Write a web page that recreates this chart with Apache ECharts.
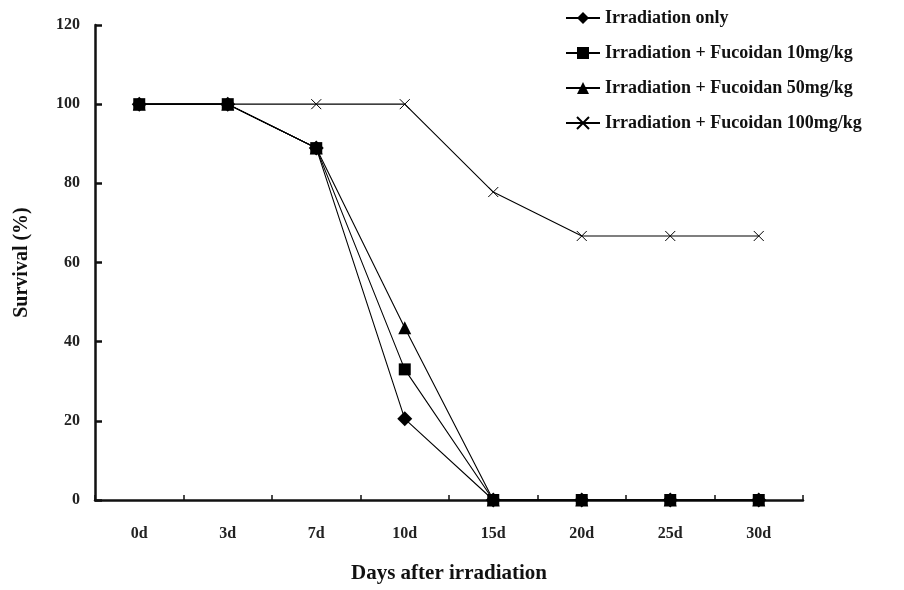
<!DOCTYPE html>
<html>
<head>
<meta charset="utf-8">
<script src="https://cdn.jsdelivr.net/npm/echarts@6/dist/echarts.min.js"></script>
<style>
  html, body { margin: 0; padding: 0; background: #fff; }
  #chart { width: 904px; height: 590px; }
</style>
</head>
<body>
<div id="chart"></div>
<script>
const days = ['0d', '3d', '7d', '10d', '15d', '20d', '25d', '30d'];
const irradiationOnly = [100, 100, 88.9, 20.5, 0, 0, 0, 0];
const fucoidan10 = [100, 100, 88.9, 33, 0, 0, 0, 0];
const fucoidan50 = [100, 100, 88.9, 43.5, 0, 0, 0, 0];
const fucoidan100 = [100, 100, 100, 100, 77.8, 66.7, 66.7, 66.7];
const yTicks = [0, 20, 40, 60, 80, 100, 120];

const font = 'Liberation Serif';
const crossPath = 'path://M0,0L10,10M10,0L0,10';

const myChart = echarts.init(document.getElementById('chart'));

const mkSeries = (name, data, symbol, size, extra) => Object.assign({
  name: name,
  type: 'line',
  data: data,
  symbol: symbol,
  symbolSize: size,
  lineStyle: { color: '#000', width: 1.1 },
  itemStyle: { color: '#000' },
  animation: false
}, extra || {});

const option = {
  backgroundColor: '#fff',
  textStyle: { fontFamily: font },
  grid: { left: 95, width: 708, top: 25, height: 475 },
  legend: {
    orient: 'vertical',
    left: 560,
    top: 4,
    itemWidth: 34,
    itemHeight: 15,
    itemGap: 17,
    textStyle: { fontFamily: font, fontWeight: 'bold', fontSize: 18, color: '#111' },
    data: [
      'Irradiation only',
      'Irradiation + Fucoidan 10mg/kg',
      'Irradiation + Fucoidan 50mg/kg',
      'Irradiation + Fucoidan 100mg/kg'
    ]
  },
  xAxis: {
    type: 'category',
    data: days,
    boundaryGap: true,
    name: 'Days after irradiation',
    nameLocation: 'middle',
    nameGap: 63,
    nameTextStyle: { fontFamily: font, fontWeight: 'bold', fontSize: 21, color: '#111' },
    axisLine: { lineStyle: { color: '#111', width: 2.5 } },
    axisTick: { show: true, inside: true, length: 5, lineStyle: { color: '#111', width: 1.5 } },
    axisLabel: { margin: 26, fontFamily: font, fontWeight: 'bold', fontSize: 16, color: '#222' }
  },
  yAxis: {
    type: 'value',
    min: yTicks[0],
    max: yTicks[yTicks.length - 1],
    interval: 20,
    name: 'Survival (%)',
    nameLocation: 'middle',
    nameRotate: 90,
    nameGap: 63,
    nameTextStyle: { fontFamily: font, fontWeight: 'bold', fontSize: 20, color: '#111' },
    axisLine: { show: true, lineStyle: { color: '#111', width: 2.5 } },
    axisTick: { show: true, inside: true, length: 7, lineStyle: { color: '#111', width: 2.5 } },
    axisLabel: { margin: 15, fontFamily: font, fontWeight: 'bold', fontSize: 16, color: '#222' },
    splitLine: { show: false }
  },
  series: [
    mkSeries('Irradiation only', irradiationOnly, 'diamond', 15),
    mkSeries('Irradiation + Fucoidan 10mg/kg', fucoidan10, 'rect', 12),
    mkSeries('Irradiation + Fucoidan 50mg/kg', fucoidan50, 'triangle', 13),
    mkSeries('Irradiation + Fucoidan 100mg/kg', fucoidan100, crossPath, 10, {
      itemStyle: { color: 'transparent', borderColor: '#000', borderWidth: 1 }
    })
  ]
};

myChart.setOption(option);
</script>
</body>
</html>
